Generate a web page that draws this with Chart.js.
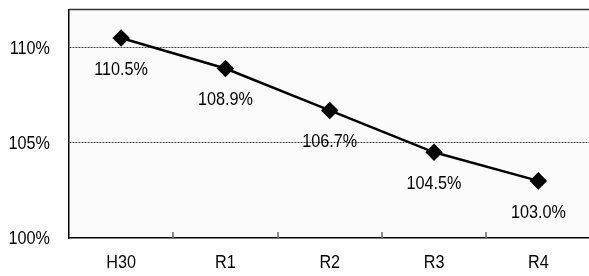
<!DOCTYPE html>
<html>
<head>
<meta charset="utf-8">
<script src="https://cdn.jsdelivr.net/npm/chart.js@4"></script>
<style>
  html, body { margin: 0; padding: 0; background: #fff; overflow: hidden; }
</style>
</head>
<body>
<canvas id="rateChart" width="600" height="276"></canvas>
<script>
// Data
var years = ['H30', 'R1', 'R2', 'R3', 'R4'];
var rates = [110.5, 108.9, 106.7, 104.5, 103.0];
var yTicks = [100, 105, 110];

var FONT = '"Liberation Sans", Arial, sans-serif';
var FONT_SIZE = 18;
var SQUEEZE = 0.9; // the original text is a little condensed

function drawText(ctx, txt, x, y, align) {
	ctx.save();
	ctx.translate(x, y);
	ctx.scale(SQUEEZE, 1);
	ctx.textAlign = align;
	ctx.fillText(txt, 0, 0);
	ctx.restore();
}

// plot background, top border, inner x ticks and all texts
var framePlugin = {
	id: 'frame',
	beforeDraw: function (chart) {
		var a = chart.chartArea, ctx = chart.ctx;
		ctx.save();
		ctx.fillStyle = '#fbfbfb';
		ctx.fillRect(a.left, a.top, a.right - a.left, a.bottom - a.top);
		ctx.restore();
	},
	afterDraw: function (chart) {
		var a = chart.chartArea, ctx = chart.ctx;
		var xs = chart.scales.x, ys = chart.scales.y;
		ctx.save();
		ctx.strokeStyle = '#333';
		ctx.lineWidth = 1.5;
		ctx.beginPath();
		ctx.moveTo(a.left, a.top);
		ctx.lineTo(a.right, a.top);
		ctx.stroke();
		// short tick marks between categories, pointing up
		ctx.strokeStyle = '#666';
		ctx.lineWidth = 1.5;
		for (var i = 0; i < years.length - 1; i++) {
			var x = Math.round((xs.getPixelForValue(i) + xs.getPixelForValue(i + 1)) / 2);
			ctx.beginPath();
			ctx.moveTo(x, a.bottom);
			ctx.lineTo(x, a.bottom - 6);
			ctx.stroke();
		}
		// axis labels
		ctx.font = FONT_SIZE + 'px ' + FONT;
		ctx.fillStyle = '#000';
		ctx.textBaseline = 'middle';
		yTicks.forEach(function (v) {
			drawText(ctx, v + '%', a.left - 19, ys.getPixelForValue(v) + 1, 'right');
		});
		years.forEach(function (lab, i) {
			drawText(ctx, lab, xs.getPixelForValue(i), a.bottom + 25, 'center');
		});
		ctx.restore();
	},
	afterDatasetsDraw: function (chart) {
		var ctx = chart.ctx;
		var meta = chart.getDatasetMeta(0);
		ctx.save();
		ctx.font = FONT_SIZE + 'px ' + FONT;
		ctx.fillStyle = '#000';
		ctx.textBaseline = 'middle';
		meta.data.forEach(function (pt, i) {
			drawText(ctx, rates[i].toFixed(1) + '%', pt.x, pt.y + 32, 'center');
		});
		ctx.restore();
	}
};

new Chart(document.getElementById('rateChart'), {
	type: 'line',
	data: {
		labels: years,
		datasets: [{
			data: rates,
			borderColor: '#000',
			borderWidth: 2.5,
			backgroundColor: '#000',
			pointStyle: 'rectRot',
			pointRadius: 7,
			pointHoverRadius: 7,
			tension: 0
		}]
	},
	options: {
		responsive: false,
		animation: false,
		layout: { padding: { top: 8, right: 6, left: 69, bottom: 38 } },
		plugins: { legend: { display: false }, tooltip: { enabled: false } },
		scales: {
			x: {
				offset: true,
				grid: { display: false, drawTicks: false },
				border: { color: '#000', width: 1.5 },
				ticks: { display: false }
			},
			y: {
				min: 100,
				max: 112,
				afterBuildTicks: function (axis) {
					axis.ticks = yTicks.map(function (v) { return { value: v }; });
				},
				grid: {
					color: function (c) { return c.tick.value === 100 ? 'rgba(0,0,0,0)' : '#444'; },
					lineWidth: 1,
					drawTicks: false
				},
				// in v4 border.dash styles the grid lines
				border: { color: '#000', width: 1.5, dash: [2, 1] },
				ticks: { display: false }
			}
		}
	},
	plugins: [framePlugin]
});
</script>
</body>
</html>
